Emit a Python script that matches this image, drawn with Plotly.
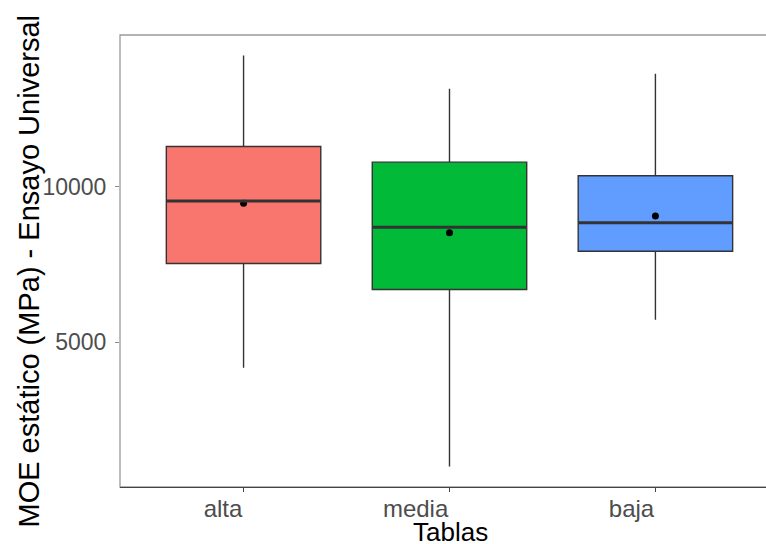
import plotly.graph_objects as go

# Summary statistics of static MOE (MPa) per board class
categories = ["alta", "media", "baja"]
lower_whisker = [4179, 1006, 5728]
q1 = [7532, 6699, 7929]
median = [9542, 8699, 8846]
q3 = [11295, 10792, 10353]
upper_whisker = [14221, 13154, 13635]
mean = [9468, 8526, 9061]
fill_colors = ["#F8766D", "#00BA38", "#619CFF"]

y_ticks = [5000, 10000]
box_width = 0.75

fig = go.Figure()

for i, cat in enumerate(categories):
    fig.add_trace(go.Box(
        x=[cat],
        q1=[q1[i]], median=[median[i]], q3=[q3[i]],
        lowerfence=[lower_whisker[i]], upperfence=[upper_whisker[i]],
        fillcolor=fill_colors[i],
        line=dict(color="#333333", width=1.4),
        whiskerwidth=0,
        width=box_width,
        boxpoints=False,
        hoverinfo="skip",
        showlegend=False,
    ))

fig.add_trace(go.Scatter(
    x=categories, y=mean, mode="markers",
    marker=dict(color="black", size=7),
    showlegend=False,
))

# thicker median bars (ggplot-style fatten), positioned by category index
median_shapes = [
    dict(type="line", xref="x", yref="y",
         x0=i - box_width / 2, x1=i + box_width / 2,
         y0=m, y1=m,
         line=dict(color="#333333", width=3), layer="above")
    for i, m in enumerate(median)
]

panel_border = dict(
    type="rect", xref="paper", yref="paper",
    x0=0, x1=1.05, y0=0, y1=1,
    line=dict(color="#9a9a9a", width=1.3),
    fillcolor="rgba(0,0,0,0)", layer="below",
)

fig.update_layout(
    width=766, height=544,
    margin=dict(l=120, r=0, t=35, b=57),
    paper_bgcolor="white", plot_bgcolor="white",
    boxmode="overlay",
    font=dict(family="Liberation Sans, Arial, sans-serif"),
    xaxis=dict(
        type="category",
        categoryorder="array", categoryarray=categories,
        range=[-0.6, 2.537],
        showgrid=False, zeroline=False,
        showline=True, linecolor="#444444", linewidth=1.2,
        ticks="outside", ticklen=4, tickcolor="#444444", tickwidth=1.2,
        ticklabelposition="outside left",
        tickfont=dict(size=24, color="#4D4D4D"),
    ),
    yaxis=dict(
        range=[345, 14882],
        tickvals=y_ticks, tickformat="d",
        showgrid=False, zeroline=False,
        showline=False,
        ticks="outside", ticklen=4, tickcolor="#8a8a8a", tickwidth=1.2,
        ticklabelstandoff=4,
        tickfont=dict(size=23, color="#4D4D4D"),
    ),
    shapes=[panel_border] + median_shapes,
    annotations=[
        dict(text="Tablas", xref="paper", yref="paper",
             x=(450.5 - 120) / 646, y=(487 - 532) / 452,
             xanchor="center", yanchor="middle", showarrow=False,
             font=dict(size=26, color="black")),
        dict(text="MOE estático (MPa) - Ensayo Universal",
             xref="paper", yref="paper",
             x=(28 - 120) / 646, y=(487 - 271.5) / 452,
             xanchor="center", yanchor="middle", textangle=-90,
             showarrow=False, font=dict(size=29, color="black")),
    ],
)

fig.write_html("out.html")
